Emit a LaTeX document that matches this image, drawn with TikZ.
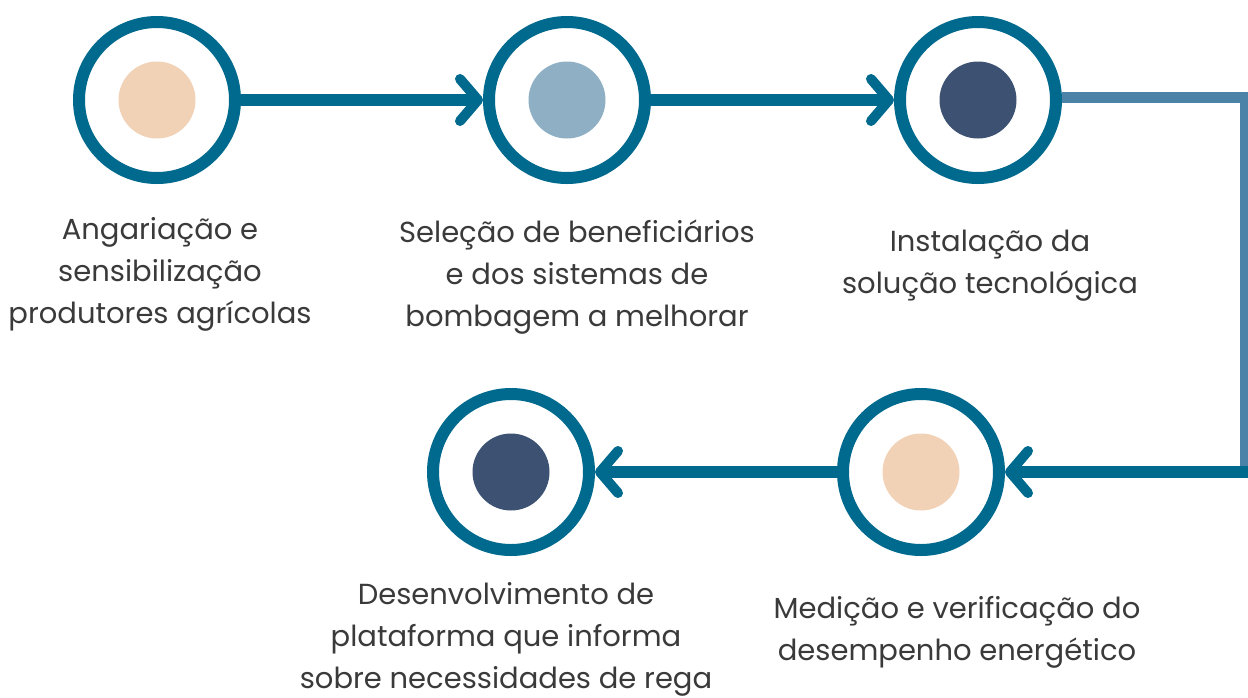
\documentclass[tikz,border=0pt]{standalone}
\usepackage{fontspec}
\setmainfont{Poppins}
\usetikzlibrary{arrows.meta}
\definecolor{ring}{HTML}{006A8E}
\definecolor{ringlight}{HTML}{4A82A8}
\definecolor{peach}{HTML}{F2D2B6}
\definecolor{sky}{HTML}{8FB0C4}
\definecolor{navy}{HTML}{3D5272}
\definecolor{ink}{HTML}{3A3A3A}
\tikzset{
	stage/.style = {circle, draw = ring, line width = 12pt, fill = white, minimum size = 156pt, inner sep = 0pt},
	dot/.style = {circle, minimum size = 77pt, inner sep = 0pt},
	flow/.style = {draw = ring, line width = 12pt, -{Straight Barb[length = 18pt, width = 42pt, line width = 10pt, round]}},
	caption/.style = {align = center, text = ink, font = \fontsize{29pt}{42pt}\selectfont}
}
\begin{document}
\begin{tikzpicture}[x = 1pt, y = -1pt]
	\useasboundingbox (0, 0) rectangle (1248, 697);
	\node (S1) at ( 157, 100)	[stage]	{};
	\node (S2) at ( 567, 100)	[stage]	{};
	\node (S3) at ( 978, 100)	[stage]	{};
	\node (S4) at ( 921, 472)	[stage]	{};
	\node (S5) at ( 511, 472)	[stage]	{};
	\node (D1) at (S1)	[dot, fill = peach]	{};
	\node (D2) at (S2)	[dot, fill = sky]	{};
	\node (D3) at (S3)	[dot, fill = navy]	{};
	\node (D4) at (S4)	[dot, fill = peach]	{};
	\node (D5) at (S5)	[dot, fill = navy]	{};
	\coordinate (C1) at (1245, 97);
	\coordinate (C2) at (1245, 472);
	\coordinate (C3) at (1250, 472);
	\draw[flow] (S1) -- (S2);
	\draw[flow] (S2) -- (S3);
	\draw[ringlight, line width = 11pt] (S3.east |- C1) -- (C1) -- (C2);
	\draw[flow] (C3) -- (S4);
	\draw[flow] (S4) -- (S5);
	\node (L1) at ( 160, 274)	[caption]	{Angariação e\\sensibilização\\produtores agrícolas};
	\node (L2) at ( 577, 277)	[caption]	{Seleção de beneficiários\\e dos sistemas de\\bombagem a melhorar};
	\node (L3) at ( 990, 266)	[caption]	{Instalação da\\solução tecnológica};
	\node (L4) at ( 957, 632)	[caption]	{Medição e verificação do\\desempenho energético};
	\node (L5) at ( 506, 639)	[caption]	{Desenvolvimento de\\plataforma que informa\\sobre necessidades de rega};
\end{tikzpicture}
\end{document}
